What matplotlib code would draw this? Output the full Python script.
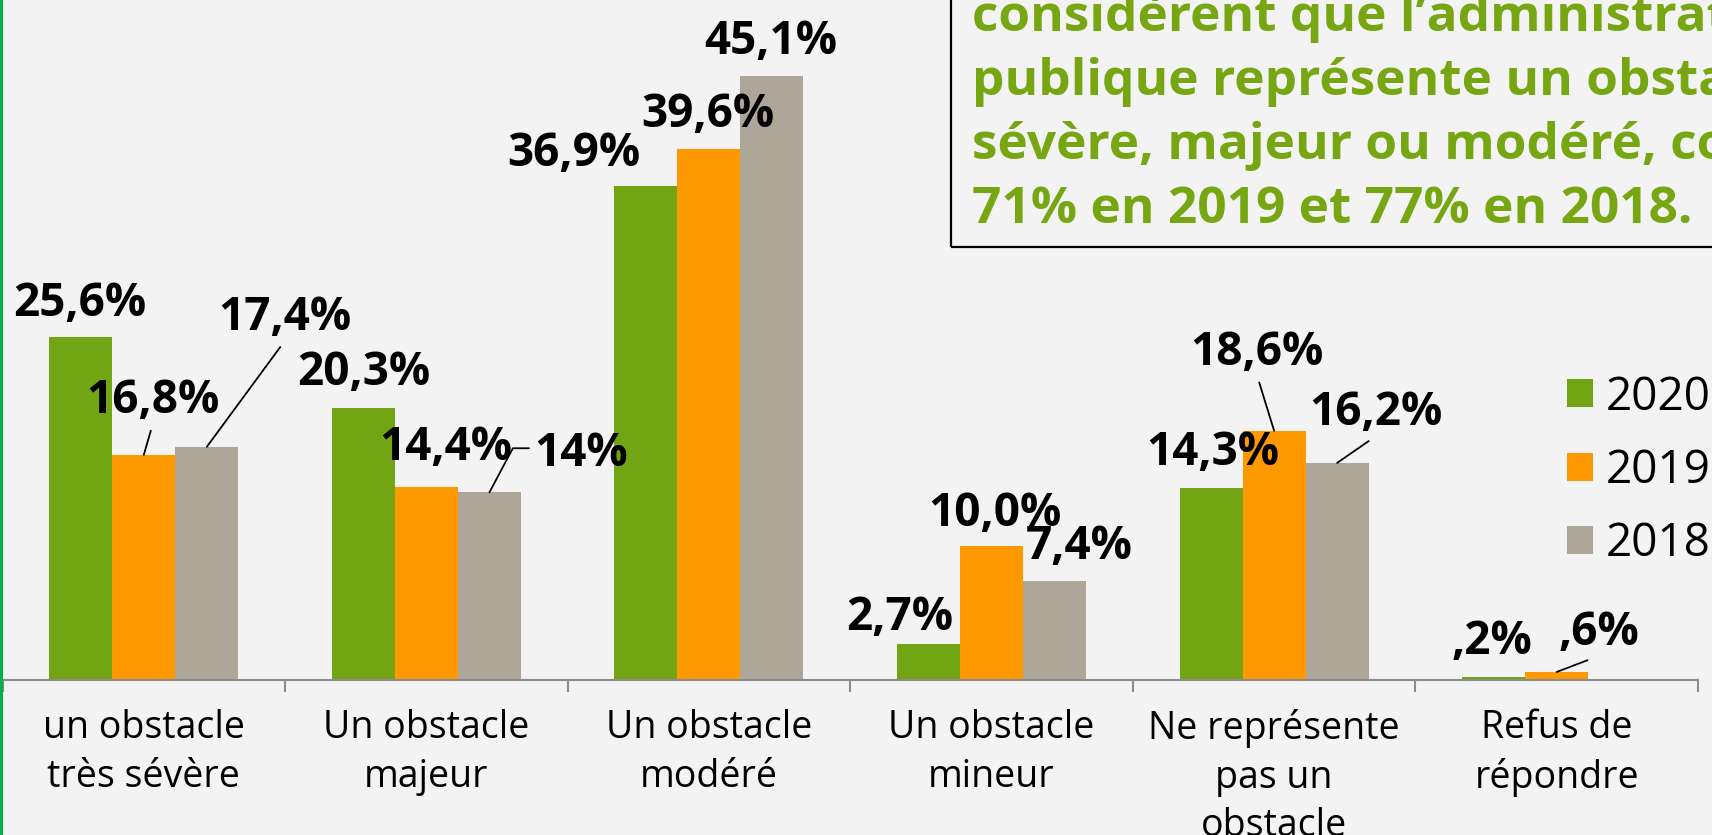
import numpy as np
import matplotlib.pyplot as plt
from matplotlib.patches import Rectangle

plt.rcParams['font.family'] = ['Open Sans', 'DejaVu Sans']

categories = ["un obstacle\ntrès sévère", "Un obstacle\nmajeur", "Un obstacle\nmodéré",
              "Un obstacle\nmineur", "Ne représente\npas un\nobstacle", "Refus de\nrépondre"]
years = ["2020", "2019", "2018"]
v2020 = [25.6, 20.3, 36.9, 2.7, 14.3, 0.2]
v2019 = [16.8, 14.4, 39.6, 10.0, 18.6, 0.6]
v2018 = [17.4, 14.0, 45.1, 7.4, 16.2, np.nan]
lab2020 = ["25,6%", "20,3%", "36,9%", "2,7%", "14,3%", ",2%"]
lab2019 = ["16,8%", "14,4%", "39,6%", "10,0%", "18,6%", ",6%"]
lab2018 = ["17,4%", "14%", "45,1%", "7,4%", "16,2%", ""]

title_lines = ["considèrent que l’administration",
               "publique représente un obstacle très",
               "sévère, majeur ou modéré, contre",
               "71% en 2019 et 77% en 2018."]

colors = ["#72A514", "#FF9900", "#AEA699"]
green_txt = "#76A713"
axis_col = "#8C8C8C"
bg = "#F3F3F3"

# label offsets in pixels (dx, dy to baseline) from the bar top
off2020 = [(-1, 21), (0, 23), (-72, 20), (-29, 14), (2, 23), (-2, 23)]
off2019 = [(9, 42), (19, 27), (-1, 22), (3, 20), (-17, 66), (42, 27)]
off2018 = [(78, 117), (92, 26), (-1, 22), (25, 22), (39, 38), (0, 0)]
leader2019 = [True, False, False, False, True, True]
leader2018 = [True, True, False, False, True, False]

W, H = 1712, 835
fig = plt.figure(figsize=(W / 100, H / 100), dpi=100)
fig.patch.set_facecolor(bg)
ax = fig.add_axes([2.5 / W, 155 / H, 1695.5 / W, 680 / H])
ax.set_facecolor('none')

x = np.arange(len(categories))
w = 0.223
series = [v2020, v2019, v2018]
labels = [lab2020, lab2019, lab2018]
offsets = [off2020, off2019, off2018]
leaders = [[False] * 6, leader2019, leader2018]

for k in range(3):
    ax.bar(x + (k - 1) * w, series[k], width=w, color=colors[k], label=years[k], zorder=2)
    for i in range(len(categories)):
        v = series[k][i]
        if np.isnan(v) or labels[k][i] == "":
            continue
        dx, dy = offsets[k][i]
        kw = {}
        if leaders[k][i]:
            if k == 2 and i == 1:
                kw['arrowprops'] = dict(arrowstyle='-', color='black', lw=1.3, shrinkA=2, shrinkB=0,
                                        relpos=(0, 0.62), connectionstyle='angle,angleA=0,angleB=62,rad=0')
            else:
                kw['arrowprops'] = dict(arrowstyle='-', color='black', lw=1.3, shrinkA=3, shrinkB=0,
                                        relpos=(0.5, 0))
        ax.annotate(labels[k][i], xy=(x[i] + (k - 1) * w, v), xytext=(dx, dy),
                    textcoords='offset pixels', ha='center', va='baseline',
                    fontsize=33, fontweight='bold', color='black', zorder=5, **kw)

ax.set_xlim(-0.5, 5.5)
ax.set_ylim(0, 680 / 13.4)
ax.set_xticks(np.arange(len(categories) + 1) - 0.5)
ax.set_xticklabels([])
ax.set_xticks(x, minor=True)
ax.set_xticklabels(categories, minor=True, fontsize=27, color='black')
for t in ax.get_xticklabels(minor=True):
    t.set_linespacing(1.36)
ax.tick_params(axis='x', which='major', length=8.6, width=1.5, color=axis_col, direction='out')
ax.tick_params(axis='x', which='minor', length=0, pad=21)
ax.set_yticks([])
for s in ['left', 'right', 'top']:
    ax.spines[s].set_visible(False)
ax.spines['bottom'].set_color(axis_col)
ax.spines['bottom'].set_linewidth(1.5)

ax.legend(loc='center left', bbox_to_anchor=(1567 / W, 1 - 471 / H), bbox_transform=fig.transFigure,
          frameon=False, fontsize=33, handlelength=0.57, handleheight=0.57, handletextpad=0.28,
          borderpad=0, borderaxespad=0, labelspacing=0.6)

# slide border and text box
fig.add_artist(Rectangle((0, 0), 2.5 / W, 1, transform=fig.transFigure, color='#00B050', lw=0))
fig.add_artist(Rectangle((951 / W, 1 - 247 / H), 0.6, 0.5, transform=fig.transFigure,
                         fill=False, edgecolor='black', lw=1.6))
for i, line in enumerate(title_lines):
    fig.text(972 / W, 1 - (31 + 64 * i) / H, line, ha='left', va='baseline',
             fontsize=37, fontweight='bold', color=green_txt)

fig.savefig('out.png', dpi=100, facecolor=fig.get_facecolor())
